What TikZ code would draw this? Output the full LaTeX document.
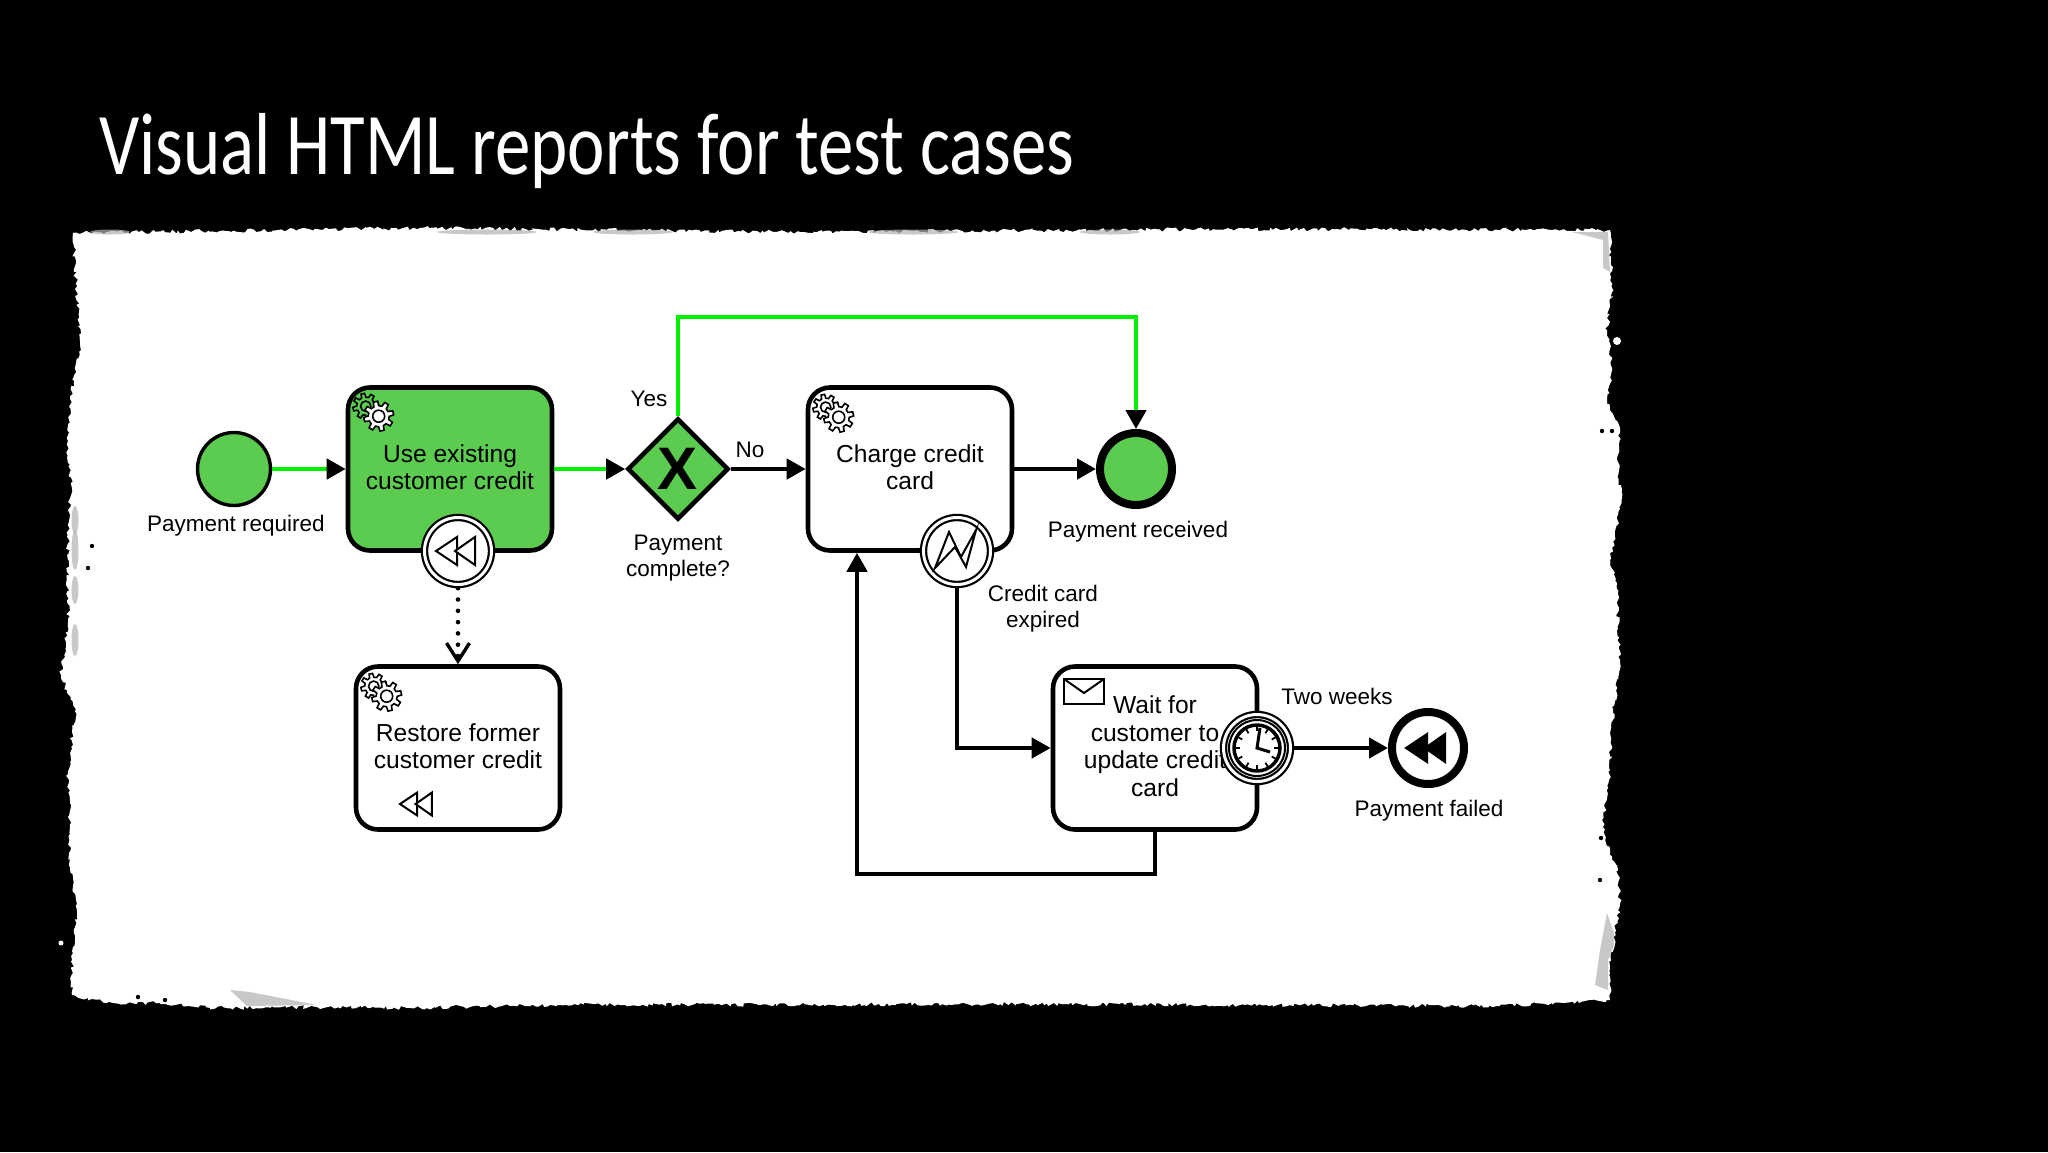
\documentclass[tikz,border=0pt]{standalone}
\usepackage{fontspec}
\setmainfont{Liberation Sans}
\newfontfamily\handfont{Carlito}
\usetikzlibrary{arrows.meta,shapes.geometric,decorations.pathmorphing}
\definecolor{okfill}{RGB}{92,204,80}
\definecolor{okline}{RGB}{0,240,0}
\tikzset{
    task/.style={draw=black, line width=4.6pt, rounded corners=22pt, minimum width=204pt, minimum height=163pt, inner sep=0pt, align=center, text depth=3.5pt, font=\fontsize{24.6}{27.5}\selectfont},
    lbl/.style={inner sep=0pt, align=center, font=\fontsize{22.5}{26}\selectfont},
    bevent/.style={circle, draw=black, fill=white, line width=2.2pt, double, double distance=3pt, minimum size=67pt, inner sep=0pt, outer sep=3.7pt},
    flow/.style={line width=4.4pt, -{Triangle[color=black,length=19pt,width=20pt]}},
    smudge/.style={gray!60, opacity=.7},
    gear/.pic={
        \draw[line width=1.6pt, pic actions] (-27:10.5) \foreach \a in {-13,32,...,302} {-- (\a-14:10.5) -- (\a-8:15) -- (\a+8:15) -- (\a+14:10.5)} -- cycle;
        \draw[line width=1.6pt, pic actions] (0,0) circle (6pt);
    },
    gears/.pic={
        \pic[scale=.86] at (-13,-10) {gear};
        \pic[fill=white] at (0,0) {gear};
    },
    rewind/.pic={
        \draw[pic actions, line width=2pt, line join=miter] (-22,0) -- (-1,-14) -- (-1,14) -- cycle;
        \draw[pic actions, line width=2pt, line join=miter] (-3,0) -- (17,-14) -- (17,14) -- cycle;
    }
}
\begin{document}
\begin{tikzpicture}[x=1pt,y=-1pt]
    \useasboundingbox (0,0) rectangle (2048,1152);
    \fill[black] (0,0) rectangle (2048,1152);
    \pgfmathsetseed{7}
    \fill[white, decorate, decoration={random steps, segment length=3pt, amplitude=2pt}]
        (73,233) -- (420,228) -- (800,232) -- (1250,229) -- (1610,230) -- (1612,292) -- (1607,330) -- (1612,368)
        -- (1607,399) -- (1620,430) -- (1617,460) -- (1622,498) -- (1610,560) -- (1617,583) -- (1620,663) -- (1613,713)
        -- (1610,770) -- (1603,827) -- (1618,875) -- (1620,903) -- (1615,933) -- (1610,967) -- (1610,1000)
        -- (1500,1006) -- (1000,1004) -- (550,1005) -- (407,1008) -- (317,1007) -- (210,1008) -- (160,1003) -- (107,1003) -- (72,995)
        -- (72,960) -- (77,916) -- (70,867) -- (70,827) -- (68,774) -- (75,711) -- (61,675) -- (68,622) -- (68,510)
        -- (72,488) -- (67,457) -- (70,399) -- (80,345) -- cycle;
    \fill[smudge] (230,990) -- (250,992) -- (317,1005) -- (247,1006) -- cycle;
    \fill[smudge] (1607,913) -- (1614,933) -- (1614,945) -- (1608,960) -- (1608,990) -- (1595,985) -- (1600,950) -- cycle;
    \fill[smudge] (1572,232) -- (1608,232) -- (1610,272) -- (1603,268) -- (1603,240) -- cycle;
    \foreach \x/\w in {110/20,487/50,633/40,913/45,1110/30} {
        \fill[smudge] (\x,232) ellipse ({\w*1pt} and 2.5pt);
    }
    \foreach \y/\h in {520/14,550/20,590/14,640/16} {
        \fill[smudge] (75,\y) ellipse (3.5pt and {\h*1pt});
    }
    \foreach \p in {(92,546),(88,568),(1602,431),(1612,431),(1601,838),(1600,880),(138,997),(165,1000)} {
        \fill[black] \p circle (2.2pt);
    }
    \fill[white] (1617,341) circle (4pt);
    \fill[white] (61,943) circle (2.5pt);

    \node[text=white, xscale=.805, inner sep=0pt, font=\handfont\fontsize{88}{88}\selectfont] (title) at (587,151) {Visual HTML reports for test cases};

    \node[circle, draw=black, fill=okfill, line width=3.4pt, minimum size=73pt] (start) at (234,469) {};
    \node[task, fill=okfill] (use) at (450,469) {Use existing\\customer credit};
    \node[diamond, draw=black, fill=okfill, line width=4.6pt, aspect=1, minimum size=101pt, inner sep=0pt, font=\fontsize{60}{60}\selectfont\bfseries] (gate) at (678,469) {X};
    \node[task, fill=white] (charge) at (910,469) {Charge credit\\card};
    \node[circle, draw=black, fill=okfill, line width=8pt, minimum size=72pt] (done) at (1136,469) {};
    \node[task, fill=white] (restore) at (458,748) {Restore former\\customer credit};
    \node[task, fill=white] (wait) at (1155,748) {Wait for\\customer to\\update credit\\card};
    \node[circle, draw=black, fill=white, line width=8pt, minimum size=72pt] (failed) at (1428,748) {};
    \node[bevent] (undo) at (458,551) {};
    \node[bevent] (error) at (957,551) {};
    \node[bevent] (timer) at (1257,748) {};

    \coordinate (over) at (678,317);
    \coordinate (back) at (857,874);

    \draw[flow, okline] (start) -- (use);
    \draw[flow, okline] (use) -- (gate);
    \draw[flow, black] (gate) -- (charge);
    \draw[flow, black] (charge) -- (done);
    \draw[flow, okline] (gate.north) -- (over) -| (done.north);
    \draw[flow, black] (error.south) |- (wait.west);
    \draw[flow, black] (timer) -- (failed);
    \draw[flow, black] (wait.south) |- (back) -- (charge.south -| back);
    \draw[line width=4.6pt, line cap=round, dash pattern=on 0pt off 11.3pt, -{Straight Barb[length=18pt,width=23pt,line width=3.4pt]}] (undo.south) -- (restore.north);

    \pic at ([shift={(33,31)}]use.north west) {gears};
    \pic at ([shift={(33,32)}]charge.north west) {gears};
    \pic at ([shift={(33,32)}]restore.north west) {gears};

    \draw[line width=2pt] (1064,679) rectangle (1104,704);
    \draw[line width=2pt] (1064,679) -- (1084,693) -- (1104,679);

    \pic[fill=white] at (undo) {rewind};
    \pic[scale=.82, fill=white] at (418,804) {rewind};
    \pic[fill=black] at (failed) {rewind};

    \draw[line width=2pt] (957,551) ++(-22,17) -- ++(14,-36) -- ++(12,25) -- ++(15,-27) -- ++(-10,37) -- ++(-11,-20) -- cycle;

    \draw[line width=2pt] (timer) circle (28pt);
    \draw[line width=3.5pt] (timer) circle (23pt);
    \foreach \a in {0,30,...,330} {
        \draw[line width=1.8pt] (timer) ++(\a:17) -- ++(\a:6);
    }
    \draw[line width=3pt] (1260,728) -- (1257,748) -- (1270,752);

    \node[lbl] (tstart) at (236,526) {Payment required};
    \node[lbl] (tyes) at (649,399) {Yes};
    \node[lbl] (tno) at (750,450) {No};
    \node[lbl] (tgate) at (678,558) {Payment\\complete?};
    \node[lbl] (tdone) at (1138,532) {Payment received};
    \node[lbl] (terror) at (1043,609) {Credit card\\expired};
    \node[lbl] (ttimer) at (1337,696) {Two weeks};
    \node[lbl] (tfailed) at (1429,811) {Payment failed};
\end{tikzpicture}
\end{document}
